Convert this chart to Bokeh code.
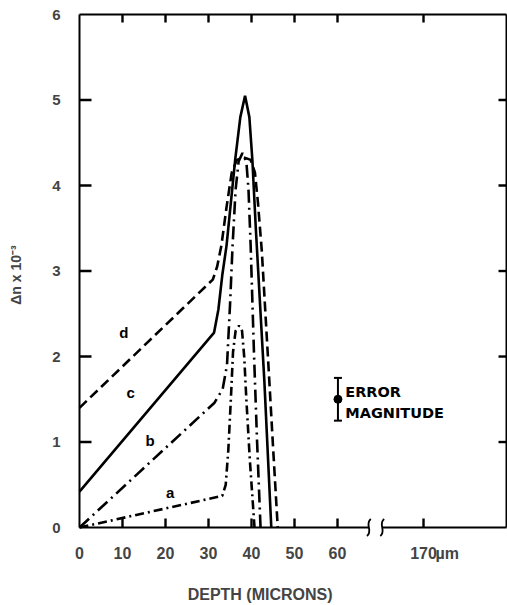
from bokeh.plotting import figure
from bokeh.models import (Range1d, LinearAxis, FixedTicker, Whisker, TeeHead,
                          ColumnDataSource)
from bokeh.core.properties import value
from bokeh.embed import file_html
from bokeh.resources import INLINE

# ---------------- data ----------------
depth_a = [0, 33.2, 34.0, 34.6, 35.2, 35.7, 36.3, 37.1, 37.8, 38.3, 38.8, 39.6, 40.7]
dn_a    = [0, 0.37, 0.5, 0.9, 1.5, 2.05, 2.3, 2.36, 2.3, 2.0, 1.5, 0.8, 0]

depth_b = [0, 31.4, 33.3, 34.3, 35.0, 35.6, 36.3, 37.0, 37.9, 38.8, 39.3, 39.8, 40.6, 41.3, 42.1]
dn_b    = [0, 1.46, 1.62, 1.9, 2.6, 3.3, 3.95, 4.28, 4.38, 4.28, 3.95, 3.3, 2.0, 1.0, 0]

depth_c = [0, 31.3, 32.3, 33.2, 34.2, 35.2, 36.2, 37.4, 38.5, 39.5, 40.2, 41.0, 42.0, 43.0, 44.6]
dn_c    = [0.42, 2.28, 2.55, 2.95, 3.3, 3.8, 4.3, 4.8, 5.05, 4.8, 4.3, 3.5, 2.6, 1.7, 0]

depth_d = [0, 31.0, 32.0, 33.0, 34.2, 35.4, 36.6, 38.2, 39.8, 40.8, 41.5, 42.4, 44.0, 45.0, 46.1]
dn_d    = [1.4, 2.9, 3.05, 3.3, 3.75, 4.15, 4.3, 4.33, 4.3, 4.15, 3.8, 3.23, 1.84, 0.95, 0]

curve_names = ["a", "b", "c", "d"]
name_x = [21.1, 16.4, 11.9, 10.3]
name_y = [0.41, 1.02, 1.58, 2.28]

# x axis: 0-60 µm linear, then a break, then the 170 µm position
x_ticks = [0, 10, 20, 30, 40, 50, 60, 80]
x_tick_labels = ["0", "10", "20", "30", "40", "50", "60", "170"]
unit_pos = 85.5
unit_label = "µm"
y_ticks = [0, 1, 2, 3, 4, 5, 6]
x_break = [67.3, 70.4]
x_border = 99.3
y_top = 6

err_x = [60.1]
err_mid = [1.5]
err_half = [0.25]
err_text = ["ERROR", "MAGNITUDE"]
err_text_x = [61.8, 61.8]
err_text_y = [1.59, 1.34]

x_title = "DEPTH (MICRONS)"
x_title_pos = 42
y_title = "Δn x 10⁻³"

FONT = "Liberation Sans"

# pixel scale of the frame (used to place the inward ticks)
X0, X1, Y0, Y1 = -0.93, 99.53, -0.14, 6.047
FRAME_W, FRAME_H = 507 - 75, 605 - 10 - 65
px_x = (X1 - X0) / FRAME_W
px_y = (Y1 - Y0) / FRAME_H

p = figure(width=507, height=605, output_backend="svg", toolbar_location=None,
           x_range=Range1d(X0, X1), y_range=Range1d(Y0, Y1),
           min_border_left=75, min_border_right=0, min_border_top=10,
           min_border_bottom=65, background_fill_color="white",
           border_fill_color="white")
p.grid.visible = False
p.outline_line_color = None

# left axis: labels only (frame drawn as glyphs)
ya = p.yaxis[0]
ya.ticker = FixedTicker(ticks=y_ticks)
ya.axis_line_color = None
ya.major_tick_line_color = None
ya.minor_tick_line_color = None
ya.major_tick_in = 0
ya.major_tick_out = 0
ya.major_label_text_font = FONT
ya.major_label_text_font_style = "bold"
ya.major_label_text_font_size = "15px"
ya.major_label_standoff = 15
ya.axis_label = y_title
ya.axis_label_text_font = FONT
ya.axis_label_text_font_style = "bold"
ya.axis_label_text_font_size = "14px"
ya.axis_label_standoff = 25

# bottom axis: labels only
xa = p.xaxis[0]
xa.ticker = FixedTicker(ticks=x_ticks + [unit_pos])
ovr = {t: l for t, l in zip(x_ticks, x_tick_labels)}
ovr[unit_pos] = unit_label
xa.major_label_overrides = ovr
xa.axis_line_color = None
xa.major_tick_line_color = None
xa.minor_tick_line_color = None
xa.major_tick_in = 0
xa.major_tick_out = 0
xa.major_label_text_font = FONT
xa.major_label_text_font_style = "bold"
xa.major_label_text_font_size = "16px"
xa.major_label_standoff = 5

# second bottom axis carrying the title under the 0-60 part
ta = LinearAxis(ticker=FixedTicker(ticks=[x_title_pos]),
                major_label_overrides={x_title_pos: x_title},
                axis_line_color=None, major_tick_line_color=None,
                minor_tick_line_color=None, major_tick_in=0, major_tick_out=0,
                major_label_text_font=FONT, major_label_text_font_style="bold",
                major_label_text_font_size="16px", major_label_standoff=21)
p.add_layout(ta, "below")

# inward ticks as small filled bars (screen-sized) just inside the frame
tick_x = x_ticks[1:]
tick_y = y_ticks[1:-1]
LB, LT, LL, LR, TW = 9, 8, 12, 8, 2.4
p.rect(x=tick_x, y=[LB / 2 * px_y] * len(tick_x), width=TW, height=LB,
       width_units="screen", height_units="screen", fill_color="black",
       line_color=None)
p.rect(x=tick_x, y=[y_top - LT / 2 * px_y] * len(tick_x), width=TW, height=LT,
       width_units="screen", height_units="screen", fill_color="black",
       line_color=None)
p.rect(x=[LL / 2 * px_x] * len(tick_y), y=tick_y, width=LL, height=TW,
       width_units="screen", height_units="screen", fill_color="black",
       line_color=None)
p.rect(x=[x_border - LR / 2 * px_x] * len(tick_y), y=tick_y, width=LR, height=TW,
       width_units="screen", height_units="screen", fill_color="black",
       line_color=None)

# frame lines (bottom one broken)
bw = 2
p.segment(x0=[0, 0, x_border, 0, x_break[1]],
          y0=[0, y_top, y_top, 0, 0],
          x1=[0, x_border, x_border, x_break[0], x_border],
          y1=[y_top, y_top, 0, 0, 0],
          line_color="black", line_width=bw)
# break squiggles
for bx in x_break:
    p.bezier(x0=[bx - 0.45], y0=[-0.1], x1=[bx + 0.45], y1=[0.1],
             cx0=[bx + 1.1], cy0=[-0.04], cx1=[bx - 1.1], cy1=[0.04],
             line_color="black", line_width=1.8)

# curves
lw = 2.6
p.line(depth_a, dn_a, line_color="black", line_width=lw, line_dash="9 4 2 4")
p.line(depth_b, dn_b, line_color="black", line_width=lw, line_dash="13 5 2 5")
p.line(depth_c, dn_c, line_color="black", line_width=lw)
p.line(depth_d, dn_d, line_color="black", line_width=lw, line_dash="10 5")

p.text(name_x, name_y, text=curve_names, text_font=value(FONT),
       text_font_size="15px", text_font_style="bold", text_align="center",
       text_baseline="middle")

# error magnitude marker
esrc = ColumnDataSource(dict(x=err_x, upper=[m + h for m, h in zip(err_mid, err_half)],
                             lower=[m - h for m, h in zip(err_mid, err_half)]))
p.add_layout(Whisker(base="x", upper="upper", lower="lower", source=esrc,
                     dimension="height", line_width=2, line_color="black",
                     upper_head=TeeHead(size=8, line_width=2, line_color="black"),
                     lower_head=TeeHead(size=8, line_width=2, line_color="black")))
p.scatter(err_x, err_mid, size=8, color="black")
p.text(err_text_x, err_text_y, text=err_text, text_font=value("DejaVu Sans"),
       text_font_size="14.5px", text_font_style="bold", text_align="left",
       text_baseline="middle")

open("out.html", "w").write(file_html(p, INLINE))
